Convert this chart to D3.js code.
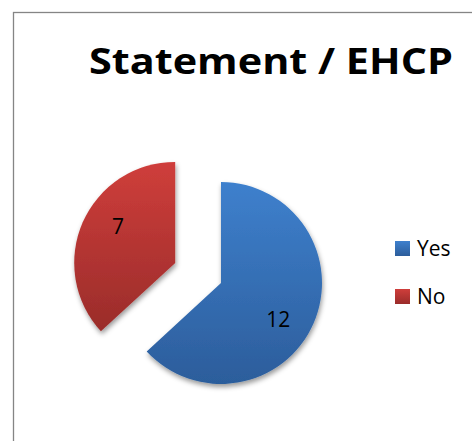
<!DOCTYPE html>
<html>
<head>
<meta charset="utf-8">
<script src="https://cdn.jsdelivr.net/npm/d3@7"></script>
<style>
  html, body { margin: 0; padding: 0; background: #fff; }
  svg { display: block; }
</style>
</head>
<body>
<svg id="chart" width="472" height="441"></svg>
<script>
var titleText = "Statement / EHCP";
var categories = ["Yes", "No"];
var values = [12, 7];
var topColors = ["#3e80cd", "#cf3e3b"];
var bottomColors = ["#2c5d9b", "#9a2c2a"];

var width = 472, height = 441;
var cx = 221, cy = 283, radius = 101;
var explode = [0, 50];
var font = "'Open Sans', 'Liberation Sans', sans-serif";

var svg = d3.select("#chart");
var defs = svg.append("defs");

var shadow = defs.append("filter")
	.attr("id", "shadow")
	.attr("x", "-20%").attr("y", "-20%")
	.attr("width", "140%").attr("height", "140%");
shadow.append("feDropShadow")
	.attr("dx", 1)
	.attr("dy", 3)
	.attr("stdDeviation", 2.5)
	.attr("flood-color", "#000")
	.attr("flood-opacity", 0.4);

categories.forEach(function(c, i) {
	var grad = defs.append("linearGradient")
		.attr("id", "grad" + i)
		.attr("x1", 0).attr("y1", 0)
		.attr("x2", 0).attr("y2", 1);
	grad.append("stop").attr("offset", "0%").attr("stop-color", topColors[i]);
	grad.append("stop").attr("offset", "100%").attr("stop-color", bottomColors[i]);
});

// chart frame (runs off the right and bottom edges)
svg.append("rect")
	.attr("x", 13.5)
	.attr("y", 12.5)
	.attr("width", 600)
	.attr("height", 600)
	.attr("fill", "none")
	.attr("stroke", "#858585")
	.attr("stroke-width", 1.3);

svg.append("text")
	.attr("x", 89)
	.attr("y", 74)
	.attr("textLength", 364)
	.attr("lengthAdjust", "spacingAndGlyphs")
	.style("font-family", font)
	.style("font-weight", "bold")
	.style("font-size", "36px")
	.attr("fill", "#000")
	.text(titleText);

var pie = d3.pie()
	.sort(null)
	.value(function(d) { return d; });

var arcs = pie(values);

var arc = d3.arc()
	.innerRadius(0)
	.outerRadius(radius);

var labelArc = d3.arc()
	.innerRadius(68)
	.outerRadius(68);

function offset(d, i) {
	var mid = (d.startAngle + d.endAngle) / 2;
	return [explode[i] * Math.sin(mid), -explode[i] * Math.cos(mid)];
}

var g = svg.append("g")
	.attr("transform", "translate(" + cx + "," + cy + ")");

var slices = g.selectAll(".slice")
	.data(arcs)
	.enter().append("g")
		.attr("class", "slice")
		.attr("transform", function(d, i) {
			var o = offset(d, i);
			return "translate(" + o[0] + "," + o[1] + ")";
		});

slices.append("path")
	.attr("d", arc)
	.attr("fill", function(d, i) { return "url(#grad" + i + ")"; })
	.attr("filter", "url(#shadow)");

slices.append("text")
	.attr("transform", function(d) {
		var a = (d.startAngle + d.endAngle) / 2 + 0.16;
		var p = labelArc.centroid({startAngle: a, endAngle: a});
		return "translate(" + p[0] + "," + p[1] + ")";
	})
	.attr("text-anchor", "middle")
	.attr("dy", "0.36em")
	.style("font-family", font)
	.style("font-size", "21px")
	.attr("fill", "#000")
	.text(function(d) { return d.data; });

var legend = svg.selectAll(".legend")
	.data(categories)
	.enter().append("g")
		.attr("class", "legend")
		.attr("transform", function(d, i) { return "translate(395," + (241 + i * 48) + ")"; });

legend.append("rect")
	.attr("width", 15)
	.attr("height", 15)
	.attr("fill", function(d, i) { return "url(#grad" + i + ")"; });

legend.append("text")
	.attr("x", 22)
	.attr("y", 15)
	.style("font-family", font)
	.style("font-size", "21px")
	.attr("fill", "#000")
	.text(function(d) { return d; });
</script>
</body>
</html>
